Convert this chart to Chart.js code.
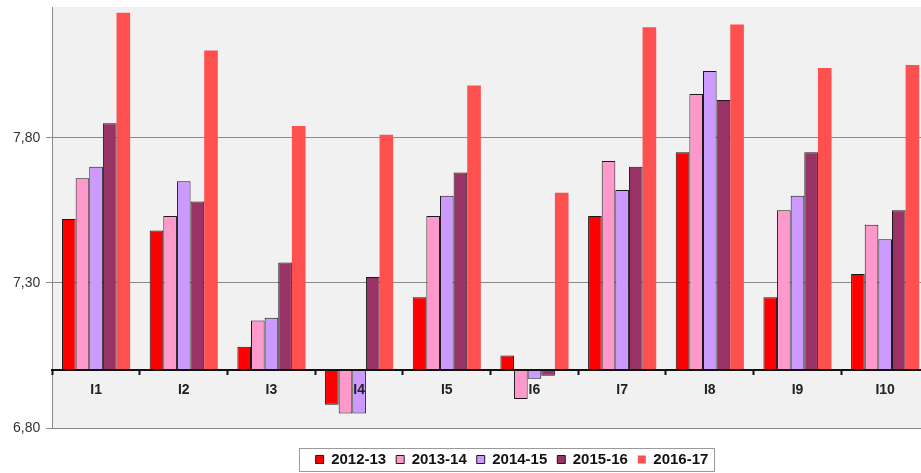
<!DOCTYPE html>
<html lang="en">
<head>
    <meta charset="UTF-8">
    <title>I1 - I10</title>
    <style>
        * {
            margin: 0;
            padding: 0;
            box-sizing: border-box;
        }

        body {
            background-color: #fff;
            overflow: hidden;
            width: 921px;
            height: 473px;
        }

        .chart-container {
            width: 932px;
            height: 473px;
        }
    </style>
</head>
<body>
    <div class="chart-container">
        <canvas id="mainChart"></canvas>
    </div>

    <script src="https://cdn.jsdelivr.net/npm/chart.js"></script>
    <script>
        const categories = ['I1', 'I2', 'I3', 'I4', 'I5', 'I6', 'I7', 'I8', 'I9', 'I10'];
        const seriesNames = ['2012-13', '2013-14', '2014-15', '2015-16', '2016-17'];

        const values1213 = [7.52, 7.48, 7.08, 6.88, 7.25, 7.05, 7.53, 7.75, 7.25, 7.33];
        const values1314 = [7.66, 7.53, 7.17, 6.85, 7.53, 6.90, 7.72, 7.95, 7.55, 7.50];
        const values1415 = [7.70, 7.65, 7.18, 6.85, 7.60, 6.97, 7.62, 8.03, 7.60, 7.45];
        const values1516 = [7.85, 7.58, 7.37, 7.32, 7.68, 6.98, 7.70, 7.93, 7.75, 7.55];
        const values1617 = [8.23, 8.10, 7.84, 7.81, 7.98, 7.61, 8.18, 8.19, 8.04, 8.05];

        const yTickValues = [6.80, 7.30, 7.80];
        const yMin = 6.80;
        const yMax = 8.25;
        const baseValue = 7.00;

        const font = '"Liberation Sans", Arial, sans-serif';

        // legend is not centred on the canvas in the original, push it a bit
        const legendShift = { x: 44, y: 14 };

        // grey plot background, legend offset and the box around the legend
        const chartDecor = {
            id: 'chartDecor',
            afterLayout(chart) {
                // hit boxes get rebuilt by the legend plugin afterwards
                const lg = chart.legend;
                lg.left += legendShift.x;
                lg.right += legendShift.x;
                lg.top += legendShift.y;
                lg.bottom += legendShift.y;
            },
            beforeDraw(chart) {
                const { ctx, chartArea } = chart;
                ctx.save();
                ctx.fillStyle = '#f1f1f1';
                ctx.fillRect(chartArea.left, chartArea.top, chartArea.right - chartArea.left, chartArea.bottom - chartArea.top);
                ctx.restore();
            },
            afterDraw(chart) {
                const boxes = chart.legend.legendHitBoxes;
                if (!boxes || !boxes.length) return;
                const left = Math.min(...boxes.map(b => b.left)) - 17;
                const right = Math.max(...boxes.map(b => b.left + b.width)) + 5;
                const top = Math.min(...boxes.map(b => b.top)) - 4;
                const bottom = Math.max(...boxes.map(b => b.top + b.height)) + 4;
                const ctx = chart.ctx;
                ctx.save();
                ctx.strokeStyle = '#9a9a9a';
                ctx.lineWidth = 1;
                ctx.strokeRect(Math.round(left) + 0.5, Math.round(top) + 0.5, Math.round(right - left), Math.round(bottom - top));
                ctx.restore();
            }
        };

        function makeDataset(label, data, color, outlined) {
            return {
                label: label,
                data: data,
                base: baseValue,
                backgroundColor: color,
                borderColor: outlined ? '#1a1a1a' : color,
                borderWidth: outlined ? 1 : 0,
                borderSkipped: false,
                barPercentage: 1.0,
                categoryPercentage: 0.777
            };
        }

        new Chart(document.getElementById('mainChart'), {
            type: 'bar',
            data: {
                labels: categories,
                datasets: [
                    makeDataset(seriesNames[0], values1213, '#ff0000', true),
                    makeDataset(seriesNames[1], values1314, '#ff99cc', true),
                    makeDataset(seriesNames[2], values1415, '#cc99ff', true),
                    makeDataset(seriesNames[3], values1516, '#993366', true),
                    makeDataset(seriesNames[4], values1617, '#ff5050', false)
                ]
            },
            options: {
                responsive: true,
                maintainAspectRatio: false,
                animation: false,
                layout: {
                    padding: { left: 7, top: 0, right: 3, bottom: 10 }
                },
                plugins: {
                    tooltip: { enabled: false },
                    legend: {
                        position: 'bottom',
                        labels: {
                            boxWidth: 8,
                            boxHeight: 8,
                            padding: 10,
                            color: '#111',
                            font: { family: font, size: 15, weight: 'bold' }
                        }
                    }
                },
                scales: {
                    x: {
                        position: { y: baseValue },
                        grid: {
                            offset: true,
                            drawOnChartArea: false,
                            drawTicks: true,
                            tickLength: 4,
                            tickWidth: 2,
                            tickColor: '#111',
                            z: 1
                        },
                        border: { color: '#111', width: 2, z: 1 },
                        ticks: {
                            z: 1,
                            padding: 8,
                            color: '#222',
                            maxRotation: 0,
                            autoSkip: false,
                            font: { family: font, size: 14, weight: 'bold' }
                        }
                    },
                    y: {
                        min: yMin,
                        max: yMax,
                        afterBuildTicks: (scale) => {
                            scale.ticks = yTickValues.map(v => ({ value: v }));
                        },
                        afterFit: (scale) => {
                            // top tick is far from the top edge, no room needed for its label
                            scale.paddingTop = 7;
                        },
                        grid: {
                            color: '#8a8a8a',
                            tickLength: 6,
                            tickColor: '#8a8a8a'
                        },
                        border: { color: '#8a8a8a', width: 1 },
                        ticks: {
                            padding: 6,
                            color: '#333',
                            font: { family: font, size: 14 },
                            callback: (value) => Number(value).toFixed(2).replace('.', ',')
                        }
                    }
                }
            },
            plugins: [chartDecor]
        });
    </script>
</body>
</html>
